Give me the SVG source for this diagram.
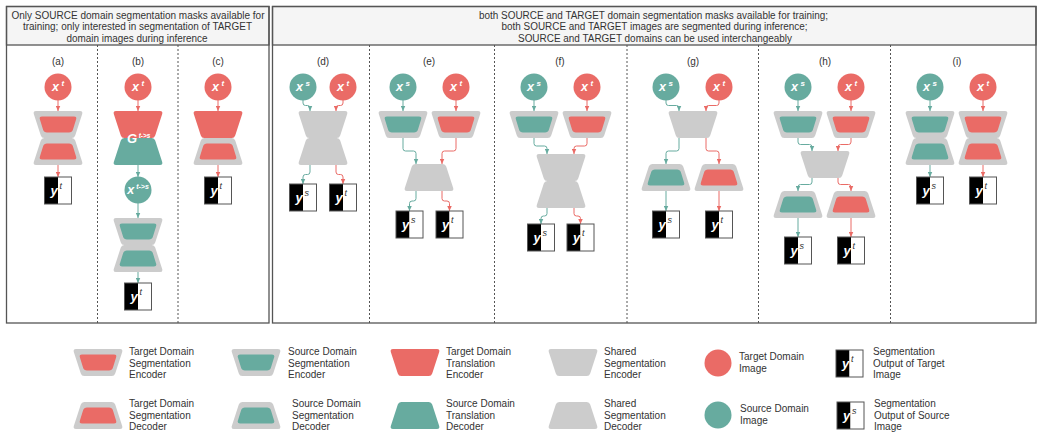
<svg xmlns="http://www.w3.org/2000/svg" xmlns:xlink="http://www.w3.org/1999/xlink" width="1043" height="439" viewBox="0 0 1043 439">
<style>
text{font-family:"Liberation Sans",Arial,sans-serif}
.hd{font-size:10px;fill:#333;text-anchor:middle}
.lb{font-size:10px;fill:#333;text-anchor:middle}
.lg{font-size:10px;fill:#333}
.cl{font-size:12.5px;font-weight:bold;font-style:italic;fill:#fff;text-anchor:middle}
.sp{font-size:8px}
.yl{font-size:13px;font-weight:bold;font-style:italic;fill:#fff}
.ys{font-size:9px;font-style:italic;fill:#333}
.gy{fill:#cccccc}
.rd{fill:#ea6b66}
.gn{fill:#67ab9f}
.panel{fill:none;stroke:#555;stroke-width:1.3}
.head{fill:#f5f5f5;stroke:#555;stroke-width:1.3}
.sep{stroke:#555;stroke-width:1;stroke-dasharray:2,2}
.cg{fill:none;stroke:#67ab9f;stroke-width:1;marker-end:url(#ag)}
.cr{fill:none;stroke:#ea6b66;stroke-width:1;marker-end:url(#ar)}
.bw{fill:#fff}
.bb{fill:#000}
.bo{fill:none;stroke:#555;stroke-width:1}
</style>
<defs>
<path id="tO" d="M3,0 H47 Q50,0 49.2,3 L42.2,24.5 Q41.4,27 38.8,27 H11.2 Q8.6,27 7.8,24.5 L0.8,3 Q0,0 3,0 Z"/>
<path id="tI" d="M9,5.5 H41 Q44.2,5.5 43,8.8 L39.9,18.8 Q39,21.5 36,21.5 H14 Q11,21.5 10.1,18.8 L7,8.8 Q5.8,5.5 9,5.5 Z"/>
<marker id="ag" viewBox="0 0 10 10" refX="10" refY="5" markerWidth="5" markerHeight="5" orient="auto" markerUnits="userSpaceOnUse"><path d="M0,0.5 L10,5 L0,9.5 Z" fill="#67ab9f"/></marker>
<marker id="ar" viewBox="0 0 10 10" refX="10" refY="5" markerWidth="5" markerHeight="5" orient="auto" markerUnits="userSpaceOnUse"><path d="M0,0.5 L10,5 L0,9.5 Z" fill="#ea6b66"/></marker>
</defs>
<rect width="1043" height="439" fill="#fff"/>

<!-- panels -->
<g id="panel-left">
<rect class="head" x="6.5" y="6.5" width="262.5" height="38.5"/>
<rect class="panel" x="6.5" y="6.5" width="262.5" height="316.5"/>
<text class="hd" x="138" y="18.5" textLength="253" lengthAdjust="spacingAndGlyphs">Only SOURCE domain segmentation masks available for</text>
<text class="hd" x="137.5" y="30" textLength="229" lengthAdjust="spacingAndGlyphs">training; only interested in segmentation of TARGET</text>
<text class="hd" x="137" y="41.5" textLength="141" lengthAdjust="spacingAndGlyphs">domain images during inference</text>
<line class="sep" x1="97.5" y1="45" x2="97.5" y2="323"/>
<line class="sep" x1="178" y1="45" x2="178" y2="323"/>
<text class="lb" x="58" y="65">(a)</text>
<text class="lb" x="138" y="65">(b)</text>
<text class="lb" x="218" y="65">(c)</text>
</g>
<g id="panel-right">
<rect class="head" x="272.5" y="6.5" width="763.5" height="38.5"/>
<rect class="panel" x="272.5" y="6.5" width="763.5" height="316.5"/>
<text class="hd" x="653.5" y="18.5" textLength="349" lengthAdjust="spacingAndGlyphs">both SOURCE and TARGET domain segmentation masks available for training;</text>
<text class="hd" x="654.5" y="30" textLength="306" lengthAdjust="spacingAndGlyphs">both SOURCE and TARGET images are segmented during inference;</text>
<text class="hd" x="655" y="41.5" textLength="274" lengthAdjust="spacingAndGlyphs">SOURCE and TARGET domains can be used interchangeably</text>
<line class="sep" x1="369.5" y1="45" x2="369.5" y2="323"/>
<line class="sep" x1="494.5" y1="45" x2="494.5" y2="323"/>
<line class="sep" x1="627" y1="45" x2="627" y2="323"/>
<line class="sep" x1="758.5" y1="45" x2="758.5" y2="323"/>
<line class="sep" x1="890.5" y1="45" x2="890.5" y2="323"/>
<text class="lb" x="323" y="65">(d)</text>
<text class="lb" x="429" y="65">(e)</text>
<text class="lb" x="560" y="65">(f)</text>
<text class="lb" x="693" y="65">(g)</text>
<text class="lb" x="825" y="65">(h)</text>
<text class="lb" x="957" y="65">(i)</text>
</g>

<!-- connectors -->
<g id="connectors">
<path class="cr" d="M58,100 V111"/>
<path class="cr" d="M58,165 V177"/>
<path class="cr" d="M138,100 V111"/>
<path class="cg" d="M138,165 V177"/>
<path class="cg" d="M138,203 V218"/>
<path class="cg" d="M138,272 V283"/>
<path class="cr" d="M218,100 V111"/>
<path class="cr" d="M218,165 V177"/>

<path class="cg" d="M303,100 V103 Q303,105.5 305.5,105.5 H307.5 Q310,105.5 310,108 V111"/>
<path class="cr" d="M343,100 V103 Q343,105.5 340.5,105.5 H338.5 Q336,105.5 336,108 V111"/>
<path class="cg" d="M310,165 V172 Q310,174.5 307.5,174.5 H305.5 Q303,174.5 303,177 V184"/>
<path class="cr" d="M336,165 V172 Q336,174.5 338.5,174.5 H340.5 Q343,174.5 343,177 V184"/>

<path class="cg" d="M403,100 V111"/>
<path class="cr" d="M456,100 V111"/>
<path class="cg" d="M403,138 V148.5 Q403,151 405.5,151 H413.5 Q416,151 416,153.5 V164"/>
<path class="cr" d="M456,138 V148.5 Q456,151 453.5,151 H444.5 Q442,151 442,153.5 V164"/>
<path class="cg" d="M416,191 V198.5 Q416,201 413.5,201 H412 Q409.5,201 409.5,203.5 V211"/>
<path class="cr" d="M442,191 V198.5 Q442,201 444.5,201 H447 Q449.5,201 449.5,203.5 V211"/>

<path class="cg" d="M534,100 V111"/>
<path class="cr" d="M587,100 V111"/>
<path class="cg" d="M534,138 V143.5 Q534,146 536.5,146 H544.5 Q547,146 547,148.5 V154"/>
<path class="cr" d="M587,138 V143.5 Q587,146 584.5,146 H576.5 Q574,146 574,148.5 V154"/>
<path class="cg" d="M547,208 V213.5 Q547,216 544.5,216 H543.5 Q541,216 541,218.5 V224"/>
<path class="cr" d="M574,208 V213.5 Q574,216 576.5,216 H578 Q580.5,216 580.5,218.5 V224"/>

<path class="cg" d="M666,100 V103 Q666,105.5 668.5,105.5 H676.5 Q679,105.5 679,108 V111"/>
<path class="cr" d="M719,100 V103 Q719,105.5 716.5,105.5 H708.5 Q706,105.5 706,108 V111"/>
<path class="cg" d="M679,138 V148.5 Q679,151 676.5,151 H668.5 Q666,151 666,153.5 V164"/>
<path class="cr" d="M706,138 V148.5 Q706,151 708.5,151 H716.5 Q719,151 719,153.5 V164"/>
<path class="cg" d="M666,191 V211"/>
<path class="cr" d="M719,191 V211"/>

<path class="cg" d="M798,100 V111"/>
<path class="cr" d="M851,100 V111"/>
<path class="cg" d="M798,138 V142 Q798,144.5 800.5,144.5 H809.5 Q812,144.5 812,147 V151"/>
<path class="cr" d="M851,138 V142 Q851,144.5 848.5,144.5 H840.5 Q838,144.5 838,147 V151"/>
<path class="cg" d="M812,178 V182 Q812,184.5 809.5,184.5 H800.5 Q798,184.5 798,187 V191"/>
<path class="cr" d="M838,178 V182 Q838,184.5 840.5,184.5 H848.5 Q851,184.5 851,187 V191"/>
<path class="cg" d="M798,218 V237"/>
<path class="cr" d="M851,218 V237"/>

<path class="cg" d="M930,100 V111"/>
<path class="cr" d="M983,100 V111"/>
<path class="cg" d="M930,165 V177"/>
<path class="cr" d="M983,165 V177"/>
</g>

<!-- (a) -->
<g id="a-xt"><circle class="rd" cx="58" cy="87" r="13.5"/><text class="cl" x="58" y="91">x<tspan class="sp" dx="2.5" dy="-5">t</tspan></text></g>
<g id="a-seg">
<use href="#tO" class="gy" transform="translate(33,111)"/>
<use href="#tO" class="gy" transform="translate(33,165) scale(1,-1)"/>
<use href="#tI" class="rd" transform="translate(33,111)"/>
<use href="#tI" class="rd" transform="translate(33,165) scale(1,-1)"/>
</g>
<g id="a-yt"><rect class="bb" x="44.5" y="177" width="13.5" height="27"/><rect class="bw" x="58" y="177" width="13.5" height="27"/><rect class="bo" x="44.5" y="177" width="27" height="27"/><text class="yl" x="50.5" y="195">y</text><text class="ys" x="59.5" y="189">t</text></g>

<!-- (b) -->
<g id="b-xt"><circle class="rd" cx="138" cy="87" r="13.5"/><text class="cl" x="138" y="91">x<tspan class="sp" dx="2.5" dy="-5">t</tspan></text></g>
<g id="b-translator">
<use href="#tO" class="rd" transform="translate(113,111)"/>
<use href="#tO" class="gn" transform="translate(113,165) scale(1,-1)"/>
<text class="yl" x="127" y="143" font-size="12">G<tspan font-size="6.5" dx="1.5" dy="-5">t-&gt;s</tspan></text>
</g>
<g id="b-xts"><circle class="gn" cx="138" cy="190" r="13.5"/><text class="cl" x="138" y="194">x<tspan font-size="7" dx="2" dy="-5">t-&gt;s</tspan></text></g>
<g id="b-seg">
<use href="#tO" class="gy" transform="translate(113,218)"/>
<use href="#tO" class="gy" transform="translate(113,272) scale(1,-1)"/>
<use href="#tI" class="gn" transform="translate(113,218)"/>
<use href="#tI" class="gn" transform="translate(113,272) scale(1,-1)"/>
</g>
<g id="b-yt"><rect class="bb" x="124.5" y="283" width="13.5" height="27"/><rect class="bw" x="138" y="283" width="13.5" height="27"/><rect class="bo" x="124.5" y="283" width="27" height="27"/><text class="yl" x="130.5" y="301">y</text><text class="ys" x="139.5" y="295">t</text></g>

<!-- (c) -->
<g id="c-xt"><circle class="rd" cx="218" cy="87" r="13.5"/><text class="cl" x="218" y="91">x<tspan class="sp" dx="2.5" dy="-5">t</tspan></text></g>
<g id="c-seg">
<use href="#tO" class="rd" transform="translate(193,111)"/>
<use href="#tO" class="gy" transform="translate(193,165) scale(1,-1)"/>
<use href="#tI" class="rd" transform="translate(193,165) scale(1,-1)"/>
</g>
<g id="c-yt"><rect class="bb" x="204.5" y="177" width="13.5" height="27"/><rect class="bw" x="218" y="177" width="13.5" height="27"/><rect class="bo" x="204.5" y="177" width="27" height="27"/><text class="yl" x="210.5" y="195">y</text><text class="ys" x="219.5" y="189">t</text></g>

<!-- (d) -->
<g id="d-xs"><circle class="gn" cx="303" cy="87" r="13.5"/><text class="cl" x="303" y="91">x<tspan class="sp" dx="2.5" dy="-5">s</tspan></text></g>
<g id="d-xt"><circle class="rd" cx="343" cy="87" r="13.5"/><text class="cl" x="343" y="91">x<tspan class="sp" dx="2.5" dy="-5">t</tspan></text></g>
<g id="d-shared">
<use href="#tO" class="gy" transform="translate(298,111)"/>
<use href="#tO" class="gy" transform="translate(298,165) scale(1,-1)"/>
</g>
<g id="d-ys"><rect class="bb" x="289.5" y="184" width="13.5" height="27"/><rect class="bw" x="303" y="184" width="13.5" height="27"/><rect class="bo" x="289.5" y="184" width="27" height="27"/><text class="yl" x="295.5" y="202">y</text><text class="ys" x="304.5" y="196">s</text></g>
<g id="d-yt"><rect class="bb" x="329.5" y="184" width="13.5" height="27"/><rect class="bw" x="343" y="184" width="13.5" height="27"/><rect class="bo" x="329.5" y="184" width="27" height="27"/><text class="yl" x="335.5" y="202">y</text><text class="ys" x="344.5" y="196">t</text></g>

<!-- (e) -->
<g id="e-xs"><circle class="gn" cx="403" cy="87" r="13.5"/><text class="cl" x="403" y="91">x<tspan class="sp" dx="2.5" dy="-5">s</tspan></text></g>
<g id="e-xt"><circle class="rd" cx="456" cy="87" r="13.5"/><text class="cl" x="456" y="91">x<tspan class="sp" dx="2.5" dy="-5">t</tspan></text></g>
<g id="e-enc-s"><use href="#tO" class="gy" transform="translate(378,111)"/><use href="#tI" class="gn" transform="translate(378,111)"/></g>
<g id="e-enc-t"><use href="#tO" class="gy" transform="translate(431,111)"/><use href="#tI" class="rd" transform="translate(431,111)"/></g>
<g id="e-shared-dec"><use href="#tO" class="gy" transform="translate(404,191) scale(1,-1)"/></g>
<g id="e-ys"><rect class="bb" x="396" y="211" width="13.5" height="27"/><rect class="bw" x="409.5" y="211" width="13.5" height="27"/><rect class="bo" x="396" y="211" width="27" height="27"/><text class="yl" x="402" y="229">y</text><text class="ys" x="411" y="223">s</text></g>
<g id="e-yt"><rect class="bb" x="436" y="211" width="13.5" height="27"/><rect class="bw" x="449.5" y="211" width="13.5" height="27"/><rect class="bo" x="436" y="211" width="27" height="27"/><text class="yl" x="442" y="229">y</text><text class="ys" x="451" y="223">t</text></g>

<!-- (f) -->
<g id="f-xs"><circle class="gn" cx="534" cy="87" r="13.5"/><text class="cl" x="534" y="91">x<tspan class="sp" dx="2.5" dy="-5">s</tspan></text></g>
<g id="f-xt"><circle class="rd" cx="587" cy="87" r="13.5"/><text class="cl" x="587" y="91">x<tspan class="sp" dx="2.5" dy="-5">t</tspan></text></g>
<g id="f-enc-s"><use href="#tO" class="gy" transform="translate(509,111)"/><use href="#tI" class="gn" transform="translate(509,111)"/></g>
<g id="f-enc-t"><use href="#tO" class="gy" transform="translate(562,111)"/><use href="#tI" class="rd" transform="translate(562,111)"/></g>
<g id="f-shared">
<use href="#tO" class="gy" transform="translate(536,154)"/>
<use href="#tO" class="gy" transform="translate(536,208) scale(1,-1)"/>
</g>
<g id="f-ys"><rect class="bb" x="527.5" y="224" width="13.5" height="27"/><rect class="bw" x="541" y="224" width="13.5" height="27"/><rect class="bo" x="527.5" y="224" width="27" height="27"/><text class="yl" x="533.5" y="242">y</text><text class="ys" x="542.5" y="236">s</text></g>
<g id="f-yt"><rect class="bb" x="567" y="224" width="13.5" height="27"/><rect class="bw" x="580.5" y="224" width="13.5" height="27"/><rect class="bo" x="567" y="224" width="27" height="27"/><text class="yl" x="573" y="242">y</text><text class="ys" x="582" y="236">t</text></g>

<!-- (g) -->
<g id="g-xs"><circle class="gn" cx="666" cy="87" r="13.5"/><text class="cl" x="666" y="91">x<tspan class="sp" dx="2.5" dy="-5">s</tspan></text></g>
<g id="g-xt"><circle class="rd" cx="719" cy="87" r="13.5"/><text class="cl" x="719" y="91">x<tspan class="sp" dx="2.5" dy="-5">t</tspan></text></g>
<g id="g-shared-enc"><use href="#tO" class="gy" transform="translate(668,111)"/></g>
<g id="g-dec-s"><use href="#tO" class="gy" transform="translate(641,191) scale(1,-1)"/><use href="#tI" class="gn" transform="translate(641,191) scale(1,-1)"/></g>
<g id="g-dec-t"><use href="#tO" class="gy" transform="translate(694,191) scale(1,-1)"/><use href="#tI" class="rd" transform="translate(694,191) scale(1,-1)"/></g>
<g id="g-ys"><rect class="bb" x="652.5" y="211" width="13.5" height="27"/><rect class="bw" x="666" y="211" width="13.5" height="27"/><rect class="bo" x="652.5" y="211" width="27" height="27"/><text class="yl" x="658.5" y="229">y</text><text class="ys" x="667.5" y="223">s</text></g>
<g id="g-yt"><rect class="bb" x="705.5" y="211" width="13.5" height="27"/><rect class="bw" x="719" y="211" width="13.5" height="27"/><rect class="bo" x="705.5" y="211" width="27" height="27"/><text class="yl" x="711.5" y="229">y</text><text class="ys" x="720.5" y="223">t</text></g>

<!-- (h) -->
<g id="h-xs"><circle class="gn" cx="798" cy="87" r="13.5"/><text class="cl" x="798" y="91">x<tspan class="sp" dx="2.5" dy="-5">s</tspan></text></g>
<g id="h-xt"><circle class="rd" cx="851" cy="87" r="13.5"/><text class="cl" x="851" y="91">x<tspan class="sp" dx="2.5" dy="-5">t</tspan></text></g>
<g id="h-enc-s"><use href="#tO" class="gy" transform="translate(773,111)"/><use href="#tI" class="gn" transform="translate(773,111)"/></g>
<g id="h-enc-t"><use href="#tO" class="gy" transform="translate(826,111)"/><use href="#tI" class="rd" transform="translate(826,111)"/></g>
<g id="h-shared-enc"><use href="#tO" class="gy" transform="translate(800,151)"/></g>
<g id="h-dec-s"><use href="#tO" class="gy" transform="translate(773,218) scale(1,-1)"/><use href="#tI" class="gn" transform="translate(773,218) scale(1,-1)"/></g>
<g id="h-dec-t"><use href="#tO" class="gy" transform="translate(826,218) scale(1,-1)"/><use href="#tI" class="rd" transform="translate(826,218) scale(1,-1)"/></g>
<g id="h-ys"><rect class="bb" x="784.5" y="237" width="13.5" height="27"/><rect class="bw" x="798" y="237" width="13.5" height="27"/><rect class="bo" x="784.5" y="237" width="27" height="27"/><text class="yl" x="790.5" y="255">y</text><text class="ys" x="799.5" y="249">s</text></g>
<g id="h-yt"><rect class="bb" x="837.5" y="237" width="13.5" height="27"/><rect class="bw" x="851" y="237" width="13.5" height="27"/><rect class="bo" x="837.5" y="237" width="27" height="27"/><text class="yl" x="843.5" y="255">y</text><text class="ys" x="852.5" y="249">t</text></g>

<!-- (i) -->
<g id="i-xs"><circle class="gn" cx="930" cy="87" r="13.5"/><text class="cl" x="930" y="91">x<tspan class="sp" dx="2.5" dy="-5">s</tspan></text></g>
<g id="i-xt"><circle class="rd" cx="983" cy="87" r="13.5"/><text class="cl" x="983" y="91">x<tspan class="sp" dx="2.5" dy="-5">t</tspan></text></g>
<g id="i-seg-s">
<use href="#tO" class="gy" transform="translate(905,111)"/>
<use href="#tO" class="gy" transform="translate(905,165) scale(1,-1)"/>
<use href="#tI" class="gn" transform="translate(905,111)"/>
<use href="#tI" class="gn" transform="translate(905,165) scale(1,-1)"/>
</g>
<g id="i-seg-t">
<use href="#tO" class="gy" transform="translate(958,111)"/>
<use href="#tO" class="gy" transform="translate(958,165) scale(1,-1)"/>
<use href="#tI" class="rd" transform="translate(958,111)"/>
<use href="#tI" class="rd" transform="translate(958,165) scale(1,-1)"/>
</g>
<g id="i-ys"><rect class="bb" x="916.5" y="177" width="13.5" height="27"/><rect class="bw" x="930" y="177" width="13.5" height="27"/><rect class="bo" x="916.5" y="177" width="27" height="27"/><text class="yl" x="922.5" y="195">y</text><text class="ys" x="931.5" y="189">s</text></g>
<g id="i-yt"><rect class="bb" x="969.5" y="177" width="13.5" height="27"/><rect class="bw" x="983" y="177" width="13.5" height="27"/><rect class="bo" x="969.5" y="177" width="27" height="27"/><text class="yl" x="975.5" y="195">y</text><text class="ys" x="984.5" y="189">t</text></g>

<!-- legend -->
<g id="legend-target-seg-enc">
<use href="#tO" class="gy" transform="translate(73,349)"/><use href="#tI" class="rd" transform="translate(73,349)"/>
<text class="lg" x="129" y="355">Target Domain<tspan x="129" dy="11.7">Segmentation</tspan><tspan x="129" dy="11.7">Encoder</tspan></text>
</g>
<g id="legend-target-seg-dec">
<use href="#tO" class="gy" transform="translate(73,429) scale(1,-1)"/><use href="#tI" class="rd" transform="translate(73,429) scale(1,-1)"/>
<text class="lg" x="129" y="407">Target Domain<tspan x="129" dy="11.7">Segmentation</tspan><tspan x="129" dy="11.7">Decoder</tspan></text>
</g>
<g id="legend-source-seg-enc">
<use href="#tO" class="gy" transform="translate(231,349)"/><use href="#tI" class="gn" transform="translate(231,349)"/>
<text class="lg" x="288" y="355">Source Domain<tspan x="288" dy="11.7">Segmentation</tspan><tspan x="288" dy="11.7">Encoder</tspan></text>
</g>
<g id="legend-source-seg-dec">
<use href="#tO" class="gy" transform="translate(231,429) scale(1,-1)"/><use href="#tI" class="gn" transform="translate(231,429) scale(1,-1)"/>
<text class="lg" x="292" y="407">Source Domain<tspan x="292" dy="11.7">Segmentation</tspan><tspan x="292" dy="11.7">Decoder</tspan></text>
</g>
<g id="legend-target-trans-enc">
<use href="#tO" class="rd" transform="translate(390,349)"/>
<text class="lg" x="446" y="355">Target Domain<tspan x="446" dy="11.7">Translation</tspan><tspan x="446" dy="11.7">Encoder</tspan></text>
</g>
<g id="legend-source-trans-dec">
<use href="#tO" class="gn" transform="translate(390,429) scale(1,-1)"/>
<text class="lg" x="446" y="407">Source Domain<tspan x="446" dy="11.7">Translation</tspan><tspan x="446" dy="11.7">Decoder</tspan></text>
</g>
<g id="legend-shared-enc">
<use href="#tO" class="gy" transform="translate(548,349)"/>
<text class="lg" x="604" y="355">Shared<tspan x="604" dy="11.7">Segmentation</tspan><tspan x="604" dy="11.7">Encoder</tspan></text>
</g>
<g id="legend-shared-dec">
<use href="#tO" class="gy" transform="translate(548,429) scale(1,-1)"/>
<text class="lg" x="604" y="407">Shared<tspan x="604" dy="11.7">Segmentation</tspan><tspan x="604" dy="11.7">Decoder</tspan></text>
</g>
<g id="legend-target-image">
<circle class="rd" cx="718" cy="363" r="13.5"/>
<text class="lg" x="739" y="360">Target Domain<tspan x="739" dy="11.7">Image</tspan></text>
</g>
<g id="legend-source-image">
<circle class="gn" cx="718" cy="415" r="13.5"/>
<text class="lg" x="740" y="412">Source Domain<tspan x="740" dy="11.7">Image</tspan></text>
</g>
<g id="legend-yt">
<rect class="bb" x="836" y="350" width="13.5" height="27"/><rect class="bw" x="849.5" y="350" width="13.5" height="27"/><rect class="bo" x="836" y="350" width="27" height="27"/><text class="yl" x="842" y="368">y</text><text class="ys" x="851" y="362">t</text>
<text class="lg" x="873" y="355">Segmentation<tspan x="873" dy="11.7">Output of Target</tspan><tspan x="873" dy="11.7">Image</tspan></text>
</g>
<g id="legend-ys">
<rect class="bb" x="837" y="402" width="13.5" height="27"/><rect class="bw" x="850.5" y="402" width="13.5" height="27"/><rect class="bo" x="837" y="402" width="27" height="27"/><text class="yl" x="843" y="420">y</text><text class="ys" x="852" y="414">s</text>
<text class="lg" x="874" y="407">Segmentation<tspan x="874" dy="11.7">Output of Source</tspan><tspan x="874" dy="11.7">Image</tspan></text>
</g>
</svg>
